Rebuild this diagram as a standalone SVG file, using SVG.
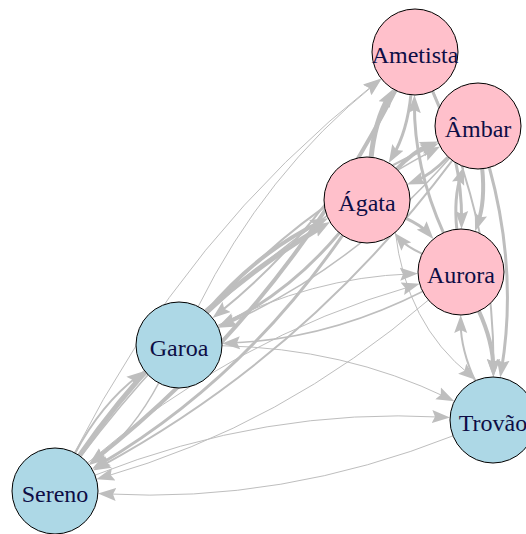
<svg xmlns="http://www.w3.org/2000/svg" width="526" height="534" viewBox="0 0 526 534">
<style>
.e{fill:none;stroke:#BEBEBE;marker-end:url(#ar)}
.n circle{stroke:#000;stroke-width:1}
.p circle{fill:#FFC0CB}
.b circle{fill:#ADD8E6}
.n text{font-family:"Liberation Serif","Times New Roman",serif;font-size:24px;fill:#0d0d45;text-anchor:middle}
</style>
<defs>
<marker id="ar" markerUnits="userSpaceOnUse" markerWidth="18" markerHeight="14" refX="10" refY="7" orient="auto">
<path d="M0,0.5 L18,7 L0,13.5 L3,7 z" fill="#BEBEBE"/>
</marker>
</defs>
<rect width="526" height="534" fill="#fff"/>
<g id="edges">
<path class="e" stroke-width="1" d="M94.1,475.5 Q266.2,407.3 442,417.1"/>
<path class="e" stroke-width="1" d="M453.9,435.5 Q281.8,503.7 106,493.9"/>
<path class="e" stroke-width="1" d="M221,345.7 Q344.2,348 447.1,397.7"/>
<path class="e" stroke-width="2" d="M74.7,454 Q100.9,404.3 138.3,375.8"/>
<path class="e" stroke-width="1.5" d="M159.3,382 Q133.1,431.7 95.7,460.2"/>
<path class="e" stroke-width="1" d="M74,453.6 Q186.8,231.9 374.9,83.5"/>
<path class="e" stroke-width="4" d="M396,89.4 Q283.2,311.1 95.1,459.5"/>
<path class="e" stroke-width="1.5" d="M80.1,457.4 Q226.3,261.9 433.1,150.2"/>
<path class="e" stroke-width="2" d="M452.9,159.6 Q306.7,355.1 99.9,466.8"/>
<path class="e" stroke-width="5" d="M78.9,456.4 Q179,311.2 323.1,226"/>
<path class="e" stroke-width="3" d="M343.1,234.6 Q243,379.8 98.9,465"/>
<path class="e" stroke-width="1" d="M86.8,463.6 Q233.9,336.9 412,286"/>
<path class="e" stroke-width="1" d="M429.2,299.4 Q282.1,426.1 104,477"/>
<path class="e" stroke-width="1" d="M197.7,307.5 Q264.7,172.5 375.2,83.9"/>
<path class="e" stroke-width="2" d="M396.3,89.5 Q329.3,224.5 218.8,313.1"/>
<path class="e" stroke-width="2" d="M206.8,313.5 Q304.4,202.6 431.3,146.5"/>
<path class="e" stroke-width="1.5" d="M450.2,157.5 Q352.6,268.4 225.7,324.5"/>
<path class="e" stroke-width="4" d="M206,312.8 Q257.1,251.8 320.9,221.7"/>
<path class="e" stroke-width="3" d="M340,232.2 Q288.9,293.2 225.1,323.3"/>
<path class="e" stroke-width="1" d="M216.4,326 Q312,277.5 410,273.9"/>
<path class="e" stroke-width="1.5" d="M423.6,291 Q328,339.5 230,343.1"/>
<path class="e" stroke-width="5" d="M371,158.2 Q374.7,120.7 389.2,96"/>
<path class="e" stroke-width="3" d="M411,93.8 Q407.3,131.3 392.8,156"/>
<path class="e" stroke-width="4" d="M396.1,169.7 Q414.3,150.8 430.5,144.4"/>
<path class="e" stroke-width="3" d="M448.9,156.3 Q430.7,175.2 414.5,181.6"/>
<path class="e" stroke-width="3" d="M405.1,217.8 Q421.9,225.7 428.2,233"/>
<path class="e" stroke-width="2" d="M422.9,254.2 Q406.1,246.3 399.8,239"/>
<path class="e" stroke-width="1" d="M395.2,231.1 Q406,324 470,375"/>
<path class="e" stroke-width="4" d="M478.5,310.2 Q493.3,342.5 493.3,369"/>
<path class="e" stroke-width="2" d="M475.5,381.8 Q460.7,349.5 460.7,323"/>
<path class="e" stroke-width="3" d="M489.1,166.5 Q517.9,271.3 501.5,369.6"/>
<path class="e" stroke-width="2" d="M432.3,90.2 Q494.5,227.4 493.5,369"/>
<path class="e" stroke-width="3" d="M432.2,90.3 Q462.2,156.9 461.6,220.9"/>
<path class="e" stroke-width="3" d="M443.8,233.7 Q413.8,167.1 414.4,103.1"/>
<path class="e" stroke-width="4" d="M482.1,167.7 Q485.6,200.9 477.7,223.8"/>
<path class="e" stroke-width="3" d="M456.9,230.3 Q453.4,197.1 461.3,174.2"/>
</g>
<g id="node-ametista" class="n p"><circle cx="415" cy="52" r="43"/><text x="415" y="63">Ametista</text></g>
<g id="node-ambar" class="n p"><circle cx="478" cy="126" r="43"/><text x="478" y="137">Âmbar</text></g>
<g id="node-agata" class="n p"><circle cx="367" cy="200" r="43"/><text x="367" y="211">Ágata</text></g>
<g id="node-aurora" class="n p"><circle cx="461" cy="272" r="43"/><text x="461" y="283">Aurora</text></g>
<g id="node-garoa" class="n b"><circle cx="179" cy="345" r="43"/><text x="179" y="356">Garoa</text></g>
<g id="node-sereno" class="n b"><circle cx="55" cy="491" r="43"/><text x="55" y="502">Sereno</text></g>
<g id="node-trovao" class="n b"><circle cx="493" cy="420" r="43"/><text x="493" y="431">Trovão</text></g>
</svg>
